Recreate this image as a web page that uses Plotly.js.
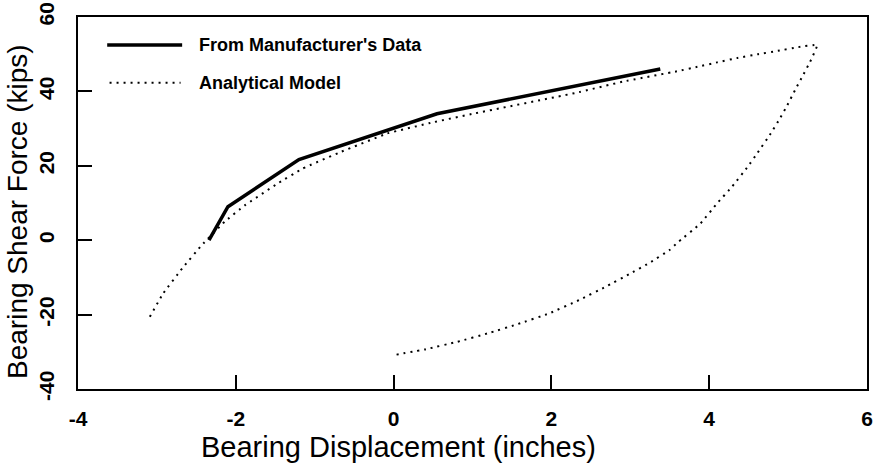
<!DOCTYPE html>
<html>
<head>
<meta charset="utf-8">
<script src="https://cdn.plot.ly/plotly-3.0.1.min.js"></script>
<style>html,body{margin:0;padding:0;background:#fff;}#chart{width:883px;height:464px;}</style>
</head>
<body>
<div id="chart"></div>
<script>
// Series names
const seriesNames = ["From Manufacturer's Data", "Analytical Model"];
const xTitle = 'Bearing Displacement (inches)';
const yTitle = 'Bearing Shear Force (kips)';

// Manufacturer's data (solid)
const mfrX = [-2.34, -2.1, -1.2, 0.55, 3.38];
const mfrY = [0.0, 9.0, 21.7, 34.0, 46.0];

// Analytical model (dotted loop): upper branch -> peak -> lower branch
const modelX = [-3.09, -2.92, -2.68, -2.43, -2.14, -1.89, -1.48, -1.15, -0.66, -0.08, 0.5, 1.03, 2.31, 2.9, 3.59, 3.85, 4.10, 4.36, 4.62, 4.87, 5.13, 5.37,
                5.28, 5.19, 5.09, 4.99, 4.89, 4.78, 4.61, 4.49, 4.29, 4.10, 3.89, 3.59, 3.50, 3.25, 2.99, 2.69, 2.35, 1.97, 1.58, 1.20, 0.81, 0.41, 0.0];
const modelY = [-20.6, -14.3, -7.6, -1.3, 5.0, 9.3, 15.1, 19.3, 23.8, 28.7, 31.7, 34.1, 39.6, 42.6, 45.4, 46.6, 47.8, 49.0, 50.0, 50.9, 51.9, 52.5,
                48.0, 44.4, 40.4, 36.3, 32.5, 28.7, 23.4, 19.8, 14.4, 9.9, 4.5, -0.8, -2.6, -6.0, -9.1, -12.5, -16.1, -19.7, -22.5, -25.0, -27.3, -29.3, -30.9];

const xTicks = [-4, -2, 0, 2, 4, 6];
const yTicks = [-40, -20, 0, 20, 40, 60];

const FONT = "Liberation Sans, Arial, sans-serif";

const traces = [
  {x: mfrX, y: mfrY, mode: 'lines', name: seriesNames[0], showlegend: false,
   line: {color: '#000', width: 3.5}},
  {x: modelX, y: modelY, mode: 'lines', name: seriesNames[1], showlegend: false,
   line: {color: '#000', width: 2, dash: '2px,5px', shape: 'spline', smoothing: 0.25}}
];

const layout = {
  width: 883, height: 464,
  margin: {l: 78, r: 16, t: 17, b: 75},
  paper_bgcolor: '#fff', plot_bgcolor: '#fff',
  font: {family: FONT, color: '#000'},
  xaxis: {
    range: [-4, 6], tickvals: xTicks, ticktext: xTicks.map(String),
    showgrid: false, zeroline: false,
    showline: true, mirror: true, linecolor: '#000', linewidth: 2,
    ticks: 'inside', ticklen: 14, tickwidth: 2, tickcolor: '#000',
    ticklabelstandoff: 10,
    tickfont: {family: FONT, size: 21, color: '#000', weight: 'bold'}
  },
  yaxis: {
    range: [-40, 60], tickvals: yTicks, ticktext: yTicks.map(String),
    showgrid: false, zeroline: false,
    showline: true, mirror: true, linecolor: '#000', linewidth: 2,
    ticks: 'inside', ticklen: 14, tickwidth: 2, tickcolor: '#000',
    tickangle: -90, ticklabelstandoff: 14,
    tickfont: {family: FONT, size: 21, color: '#000', weight: 'bold'}
  },
  showlegend: false,
  shapes: [
    {type: 'line', xref: 'paper', yref: 'paper', x0: 0.037, x1: 0.132, y0: 0.925, y1: 0.925,
     line: {color: '#000', width: 3.5}},
    {type: 'line', xref: 'paper', yref: 'paper', x0: 0.04, x1: 0.13, y0: 0.823, y1: 0.823,
     line: {color: '#000', width: 2, dash: '2px,5px'}}
  ],
  annotations: [
    {xref: 'paper', yref: 'paper', x: 0.151, y: 0.925, xanchor: 'left', yanchor: 'middle', showarrow: false,
     text: seriesNames[0], font: {family: FONT, size: 18, color: '#000', weight: 'bold'}},
    {xref: 'paper', yref: 'paper', x: 0.151, y: 0.823, xanchor: 'left', yanchor: 'middle', showarrow: false,
     text: seriesNames[1], font: {family: FONT, size: 18, color: '#000', weight: 'bold'}},
    {xref: 'paper', yref: 'paper', x: 0.406, y: -0.155, xanchor: 'center', yanchor: 'middle', showarrow: false,
     text: xTitle, font: {family: FONT, size: 29, color: '#000'}},
    {xref: 'paper', yref: 'paper', x: -0.076, y: 0.476, xanchor: 'center', yanchor: 'middle', showarrow: false,
     textangle: -90, text: yTitle, font: {family: FONT, size: 28, color: '#000'}}
  ]
};

Plotly.newPlot('chart', traces, layout, {staticPlot: true, displayModeBar: false});
</script>
</body>
</html>
